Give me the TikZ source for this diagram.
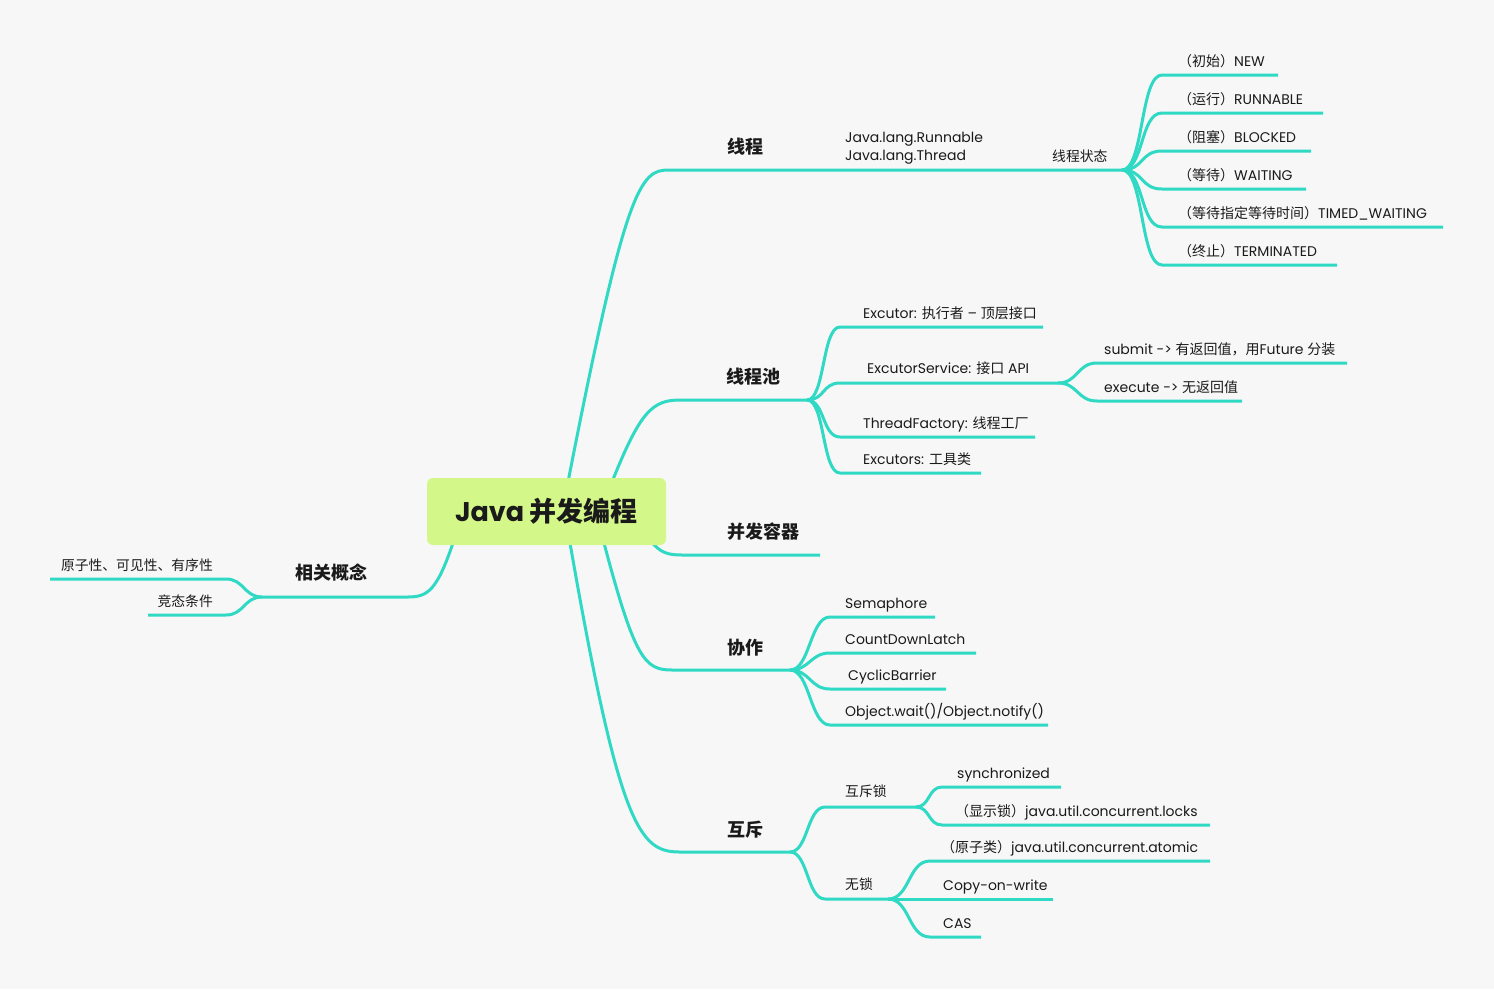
\documentclass[tikz,border=0pt]{standalone}
\usepackage{fontspec}
\setmainfont{Poppins}
\newfontfamily\cjk{Noto Sans CJK SC}
\newcommand\zhs[1]{{\cjk #1}}
\usetikzlibrary{backgrounds}
\definecolor{bgc}{HTML}{F7F7F7}
\definecolor{brc}{HTML}{2FD9C4}
\definecolor{txc}{HTML}{1A1A1A}
\definecolor{boxc}{HTML}{D4F78A}
\begin{document}
\begin{tikzpicture}[x=1pt,y=-1pt,
 br/.style={draw=brc,line width=3pt},
 lbl/.style={anchor=base west,inner sep=0pt,text=txc,font=\fontsize{14}{18}\selectfont},
 zl/.style={anchor=base west,inner sep=0pt,text=txc,font=\cjk\fontsize{13.8}{16}\selectfont},
 mainl/.style={anchor=center,inner sep=0pt,text=txc,font=\cjk\bfseries\fontsize{18}{20}\selectfont},
]
\useasboundingbox (0,0) rectangle (1494,989);
\node[fill=boxc,rounded corners=6pt,minimum width=239pt,minimum height=67pt,inner sep=0pt,
  text=txc,font=\bfseries\fontsize{27}{30}\selectfont] (root) at (546.5,511.5) {Java \zhs{并发编程}};

\begin{pgfonlayer}{background}
\fill[bgc] (0,0) rectangle (1494,989);
% ---------- 线程
\coordinate (c1) at (568,482);
\coordinate (t1s) at (668,170); \coordinate (t1e) at (1122,170);
\draw[br] (c1) .. controls (625,190) and (640,170) .. (t1s) -- (t1e);
\foreach \y/\e [count=\i] in {75/1278,113/1323,151/1311,189/1306,227/1443,265/1337}{
  \coordinate (s\i a) at (1162,\y); \coordinate (s\i b) at (\e,\y);
  \draw[br] (t1e) .. controls +(22,0) and +(-22,0) .. (s\i a) -- (s\i b);
}
% ---------- 线程池
\coordinate (c2) at (612,482);
\coordinate (p1s) at (680,400); \coordinate (p1e) at (807,400);
\draw[br] (c2) .. controls (640,412) and (652,400) .. (p1s) -- (p1e);
\foreach \y/\e [count=\i] in {327/1043,383/1058,437/1035,473/981}{
  \coordinate (q\i a) at (840,\y); \coordinate (q\i b) at (\e,\y);
  \draw[br] (p1e) .. controls +(18,0) and +(-18,0) .. (q\i a) -- (q\i b);
}
\coordinate (sua) at (1097,363); \coordinate (sub) at (1347,363);
\coordinate (exa) at (1097,401); \coordinate (exb) at (1242,401);
\draw[br] (q2b) .. controls +(20,0) and +(-20,0) .. (sua) -- (sub);
\draw[br] (q2b) .. controls +(20,0) and +(-20,0) .. (exa) -- (exb);
% ---------- 并发容器
\coordinate (c3) at (650,540);
\coordinate (bqs) at (682,555); \coordinate (bqe) at (820,555);
\draw[br] (c3) .. controls (660,553) and (668,555) .. (bqs) -- (bqe);
% ---------- 协作
\coordinate (c4) at (604,543);
\coordinate (xzs) at (672,670); \coordinate (xze) at (790,670);
\draw[br] (c4) .. controls (635,660) and (645,670) .. (xzs) -- (xze);
\foreach \y/\e [count=\i] in {617/935,653/976,689/946,725/1048}{
  \coordinate (x\i a) at (830,\y); \coordinate (x\i b) at (\e,\y);
  \draw[br] (xze) .. controls +(20,0) and +(-20,0) .. (x\i a) -- (x\i b);
}
% ---------- 互斥
\coordinate (c5) at (570,543);
\coordinate (hcs) at (680,852); \coordinate (hce) at (790,852);
\draw[br] (c5) .. controls (620,830) and (640,852) .. (hcs) -- (hce);
\coordinate (lka) at (825,807); \coordinate (lkb) at (916,807);
\coordinate (nla) at (825,899); \coordinate (nlb) at (888,899);
\draw[br] (hce) .. controls +(18,0) and +(-18,0) .. (lka) -- (lkb);
\draw[br] (hce) .. controls +(18,0) and +(-18,0) .. (nla) -- (nlb);
\foreach \y/\e [count=\i] in {787/1061,825/1210}{
  \coordinate (m\i a) at (942,\y); \coordinate (m\i b) at (\e,\y);
  \draw[br] (lkb) .. controls +(14,0) and +(-14,0) .. (m\i a) -- (m\i b);
}
\foreach \y/\e [count=\i] in {861/1210,899/1053,937/981}{
  \coordinate (n\i a) at (930,\y); \coordinate (n\i b) at (\e,\y);
  \draw[br] (nlb) .. controls +(22,0) and +(-22,0) .. (n\i a) -- (n\i b);
}
% ---------- 相关概念
\coordinate (c6) at (453,543);
\coordinate (gns) at (408,597); \coordinate (gne) at (262,597);
\draw[br] (c6) .. controls (437,590) and (428,597) .. (gns) -- (gne);
\coordinate (g1a) at (226,579); \coordinate (g1b) at (50,579);
\coordinate (g2a) at (226,615); \coordinate (g2b) at (148,615);
\draw[br] (gne) .. controls +(-18,0) and +(18,0) .. (g1a) -- (g1b);
\draw[br] (gne) .. controls +(-18,0) and +(18,0) .. (g2a) -- (g2b);
\end{pgfonlayer}

% ---------- labels
\node[mainl] (t1) at (745,147) {线程};
\node[lbl,anchor=north west,align=left] (jl) at (845,132) {Java.lang.Runnable\\Java.lang.Thread};
\node[zl] (zt) at (1052,161) {线程状态};
\node[lbl] (s1) at (1178,66) {\zhs{（初始）}NEW};
\node[lbl] (s2) at (1178,104) {\zhs{（运行）}RUNNABLE};
\node[lbl] (s3) at (1178,142) {\zhs{（阻塞）}BLOCKED};
\node[lbl] (s4) at (1178,180) {\zhs{（等待）}WAITING};
\node[lbl] (s5) at (1178,218) {\zhs{（等待指定等待时间）}TIMED\_WAITING};
\node[lbl] (s6) at (1178,256) {\zhs{（终止）}TERMINATED};

\node[mainl] (p1) at (753,377) {线程池};
\node[lbl] (q1) at (863,318) {Excutor: \zhs{执行者} – \zhs{顶层接口}};
\node[lbl] (q2) at (867,373) {ExcutorService: \zhs{接口} API};
\node[lbl] (q3) at (863,428) {ThreadFactory: \zhs{线程工厂}};
\node[lbl] (q4) at (863,464) {Excutors: \zhs{工具类}};
\node[lbl] (su) at (1104,354) {submit -> \zhs{有返回值，用}Future \zhs{分装}};
\node[lbl] (ex) at (1104,392) {execute -> \zhs{无返回值}};

\node[mainl] (bq) at (763,532) {并发容器};

\node[mainl] (xz) at (745,648) {协作};
\node[lbl] (x1) at (845,608) {Semaphore};
\node[lbl] (x2) at (845,644) {CountDownLatch};
\node[lbl] (x3) at (848,680) {CyclicBarrier};
\node[lbl] (x4) at (845,716) {Object.wait()/Object.notify()};

\node[mainl] (hc) at (745,830) {互斥};
\node[zl] (lk) at (845,796) {互斥锁};
\node[zl] (nl) at (845,889) {无锁};
\node[lbl] (m1) at (957,778) {synchronized};
\node[lbl] (m2) at (955,816) {\zhs{（显示锁）}java.util.concurrent.locks};
\node[lbl] (n1) at (941,852) {\zhs{（原子类）}java.util.concurrent.atomic};
\node[lbl] (n2) at (943,890) {Copy-on-write};
\node[lbl] (n3) at (943,928) {CAS};

\node[mainl] (gn) at (331,573) {相关概念};
\node[zl,anchor=base east] (g1) at (213,570) {原子性、可见性、有序性};
\node[zl,anchor=base east] (g2) at (213,606) {竞态条件};
\end{tikzpicture}
\end{document}
